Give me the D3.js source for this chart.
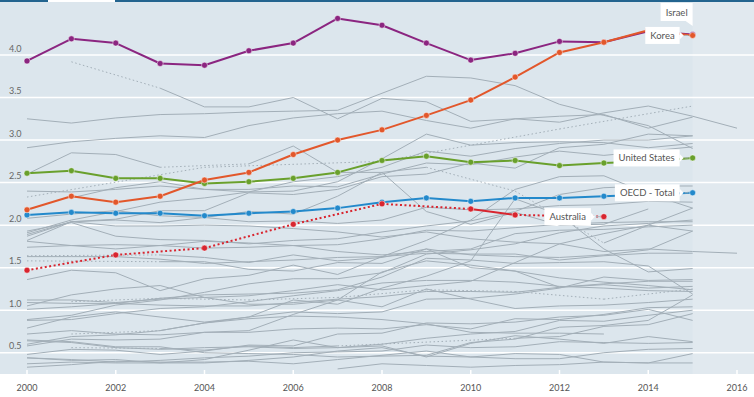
<!DOCTYPE html>
<html>
<head>
<meta charset="utf-8">
<script src="https://cdn.jsdelivr.net/npm/d3@7"></script>
<style>
  body { margin: 0; background: #fff; }
  svg { display: block; font-family: Lato, "Open Sans", sans-serif; }
</style>
</head>
<body>
<script>
// years on the x axis, 2000 - 2016
const years = [2000,2001,2002,2003,2004,2005,2006,2007,2008,2009,2010,2011,2012,2013,2014,2015,2016];
const xTicks = [2000,2002,2004,2006,2008,2010,2012,2014,2016];
const yTicks = [0.5,1.0,1.5,2.0,2.5,3.0,3.5,4.0];

// highlighted series (R&D spend, % of GDP), null = no data
const israel    = [3.93,4.19,4.14,3.90,3.88,4.05,4.14,4.43,4.35,4.14,3.94,4.02,4.16,4.15,4.28,4.24,null];
const korea     = [2.18,2.34,2.27,2.34,2.53,2.62,2.83,3.00,3.12,3.29,3.47,3.74,4.03,4.15,4.29,4.23,null];
const usa       = [2.61,2.64,2.55,2.55,2.49,2.51,2.55,2.62,2.76,2.81,2.74,2.76,2.70,2.73,2.75,2.79,null];
const oecd      = [2.12,2.15,2.14,2.14,2.11,2.14,2.16,2.20,2.27,2.32,2.28,2.32,2.32,2.34,2.36,2.38,null];
const australia = [1.47,null,1.65,null,1.73,null,2.01,null,2.25,null,2.19,2.12,null,2.10,null,null,null];

// background countries
const finland   = [3.25,3.20,3.26,3.30,3.31,3.33,3.34,3.35,3.55,3.75,3.73,3.64,3.42,3.29,3.17,2.90,null];
const japan     = [2.91,2.98,3.02,3.05,3.03,3.17,3.26,3.31,3.34,3.23,3.14,3.25,3.21,3.32,3.40,3.28,3.14];
const sweden    = [null,3.92,null,3.61,3.39,3.39,3.50,3.25,3.49,3.45,3.22,3.25,3.28,3.30,3.14,3.27,null];
const denmark   = [null,2.32,2.44,2.51,2.42,2.39,2.40,2.51,2.78,3.07,2.94,2.97,2.98,2.97,2.91,2.96,null];
const germany   = [2.40,2.39,2.42,2.46,2.42,2.42,2.46,2.45,2.60,2.73,2.71,2.80,2.87,2.82,2.87,2.92,null];
const austria   = [1.89,2.04,2.07,2.17,2.17,2.38,2.36,2.42,2.57,2.60,2.73,2.67,2.91,2.95,3.07,3.05,null];
const switzerland = [2.33,null,null,null,2.68,null,null,null,2.75,null,null,null,3.13,null,null,3.40,null];
const iceland   = [2.60,2.85,2.83,2.68,null,2.72,2.93,2.62,2.62,2.68,null,2.40,null,1.79,2.00,2.20,null];
const taiwan    = [1.91,2.06,2.16,2.27,2.32,2.39,2.51,2.57,2.68,2.87,2.81,2.90,2.96,3.00,3.00,3.05,null];
const france    = [2.08,2.13,2.17,2.11,2.09,2.04,2.05,2.02,2.06,2.21,2.18,2.19,2.23,2.24,2.28,2.27,null];
const belgium   = [1.93,2.03,1.87,1.83,1.82,1.78,1.82,1.84,1.92,1.99,2.05,2.16,2.36,2.44,2.46,2.46,null];
const netherlands = [1.81,1.76,1.72,1.76,1.81,1.79,1.76,1.69,1.65,1.69,1.72,1.90,1.94,1.95,1.98,2.00,null];
const singapore = [1.82,2.04,2.06,2.03,2.09,2.16,2.13,2.34,2.62,2.16,2.01,2.15,2.00,2.01,2.19,null,null];
const slovenia  = [1.36,1.47,1.44,1.23,1.37,1.41,1.53,1.42,1.63,1.82,2.06,2.42,2.57,2.58,2.37,2.20,null];
const canada    = [1.87,2.04,1.99,1.99,2.00,1.99,1.96,1.92,1.86,1.92,1.84,1.80,1.78,1.69,1.72,1.69,1.67];
const eu28      = [1.74,1.76,1.77,1.76,1.73,1.74,1.76,1.77,1.84,1.94,1.93,1.97,2.01,2.03,2.04,2.04,null];
const uk        = [1.63,1.63,1.63,1.60,1.55,1.57,1.59,1.62,1.63,1.67,1.66,1.66,1.59,1.64,1.67,1.67,null];
const norway    = [1.58,null,null,1.57,1.57,1.48,1.46,1.56,1.55,1.72,1.65,1.63,1.62,1.65,1.71,1.93,null];
const luxembourg = [1.64,null,null,1.65,1.62,1.56,1.65,1.58,1.62,1.72,1.50,1.46,1.27,1.30,1.26,1.28,null];
const china     = [0.89,0.94,1.06,1.12,1.21,1.31,1.37,1.37,1.44,1.66,1.71,1.78,1.91,1.99,2.02,2.06,null];
const czech     = [1.12,1.12,1.09,1.13,1.15,1.17,1.23,1.30,1.24,1.29,1.34,1.56,1.78,1.90,2.00,1.93,null];
const ireland   = [1.09,1.08,1.08,1.14,1.18,1.19,1.20,1.24,1.39,1.61,1.59,1.55,1.56,1.57,1.52,1.19,null];
const estonia   = [0.60,0.69,0.71,0.76,0.85,0.92,1.12,1.07,1.26,1.40,1.58,2.31,2.12,1.72,1.45,1.49,null];
const russia    = [1.05,1.18,1.25,1.29,1.15,1.07,1.07,1.12,1.04,1.25,1.13,1.02,1.05,1.06,1.09,1.13,null];
const newZealand = [null,1.10,null,1.14,null,1.12,null,1.15,null,1.24,null,1.22,null,1.13,null,1.25,null];
const spain     = [0.88,0.89,0.96,1.02,1.04,1.10,1.17,1.23,1.32,1.35,1.35,1.33,1.28,1.26,1.23,1.22,null];
const italy     = [1.01,1.04,1.08,1.06,1.05,1.05,1.09,1.13,1.16,1.22,1.22,1.21,1.27,1.31,1.34,1.34,null];
const portugal  = [0.72,0.76,0.72,0.71,0.74,0.76,0.95,1.12,1.45,1.58,1.53,1.46,1.38,1.33,1.29,1.24,null];
const hungary   = [0.79,0.92,0.98,0.92,0.86,0.92,0.98,0.96,0.98,1.13,1.14,1.19,1.26,1.39,1.35,1.36,null];
const southAfrica = [null,0.72,null,0.76,0.85,0.90,0.93,0.92,0.89,0.84,0.74,0.73,0.73,0.72,null,null,null];
const turkey    = [0.48,0.54,0.53,0.48,0.52,0.59,0.58,0.72,0.73,0.85,0.84,0.86,0.92,0.94,1.01,0.88,null];
const poland    = [0.64,0.62,0.56,0.54,0.56,0.57,0.55,0.56,0.60,0.67,0.72,0.75,0.88,0.87,0.94,1.00,null];
const slovakia  = [0.65,0.63,0.57,0.57,0.50,0.49,0.48,0.45,0.46,0.47,0.62,0.66,0.80,0.82,0.88,1.18,null];
const lithuania = [0.58,0.66,0.65,0.66,0.74,0.74,0.78,0.79,0.78,0.83,0.78,0.90,0.89,0.95,1.03,1.04,null];
const greece    = [null,0.56,null,0.55,0.53,0.58,0.56,0.58,null,null,null,0.67,0.69,0.81,0.83,0.96,null];
const latvia    = [0.44,0.41,0.42,0.38,0.42,0.53,0.65,0.56,0.58,0.45,0.61,0.70,0.66,0.61,0.69,0.63,null];
const argentina = [0.44,0.42,0.39,0.41,0.44,0.46,0.50,0.51,0.52,0.59,0.56,0.57,0.63,0.62,0.61,0.62,null];
const romania   = [0.37,0.39,0.38,0.38,0.38,0.41,0.45,0.52,0.56,0.46,0.45,0.49,0.48,0.39,0.38,0.49,null];
const mexico    = [0.33,0.36,0.40,0.39,0.39,0.40,0.37,0.42,0.47,0.52,0.45,0.43,0.43,0.50,0.54,0.55,null];
const chile     = [null,null,null,null,null,null,null,0.31,0.37,0.35,0.33,0.35,0.36,0.39,0.38,0.38,null];

const background = [finland, japan, sweden, denmark, germany, austria, switzerland, iceland, taiwan,
  france, belgium, netherlands, singapore, slovenia, canada, eu28, uk, norway, luxembourg, china,
  czech, ireland, estonia, russia, newZealand, spain, italy, portugal, hungary, southAfrica, turkey,
  poland, slovakia, lithuania, greece, latvia, argentina, romania, mexico, chile];

const highlighted = [
  {name: "Israel", values: israel, color: "#8b2580"},
  {name: "United States", values: usa, color: "#69a02c"},
  {name: "OECD - Total", values: oecd, color: "#2389cb"},
  {name: "Australia", values: australia, color: "#d8252f"},
  {name: "Korea", values: korea, color: "#e2572b"}
];

const w = 754, h = 397;
const plotBottom = 374;

const x = d3.scaleLinear().domain([2000, 2016]).range([27, 737]);
const y = d3.scaleLinear().domain([0.25, 4.0]).range([plotBottom, 55]);

const svg = d3.select("body").append("svg")
  .attr("width", w)
  .attr("height", h);

// plot background
svg.append("rect")
  .attr("x", 0).attr("y", 2)
  .attr("width", w).attr("height", plotBottom - 2)
  .attr("fill", "#e1e9ef");
svg.append("rect")
  .attr("x", 0).attr("y", 2)
  .attr("width", x(2015)).attr("height", plotBottom - 2)
  .attr("fill", "#dce6ed");

// top tab bar
svg.append("rect").attr("x", 0).attr("y", 0).attr("width", 48).attr("height", 2).attr("fill", "#23648f");
svg.append("rect").attr("x", 115).attr("y", 0).attr("width", w - 115).attr("height", 2).attr("fill", "#23648f");

// grid lines + y labels
svg.selectAll(".grid")
  .data(yTicks)
  .enter()
  .append("line")
  .attr("x1", 0).attr("x2", w)
  .attr("y1", d => y(d)).attr("y2", d => y(d))
  .attr("stroke", "#fff")
  .attr("stroke-width", 1.5);

svg.selectAll(".ylab")
  .data(yTicks)
  .enter()
  .append("text")
  .attr("x", 9)
  .attr("y", d => y(d) - 3.5)
  .attr("font-size", "9px")
  .attr("fill", "#666")
  .text(d => d.toFixed(1));

// x ticks and labels
svg.selectAll(".xtick")
  .data(xTicks)
  .enter()
  .append("line")
  .attr("x1", d => x(d)).attr("x2", d => x(d))
  .attr("y1", plotBottom - 4).attr("y2", plotBottom)
  .attr("stroke", "#fff")
  .attr("stroke-width", 1.5);

svg.selectAll(".xlab")
  .data(xTicks)
  .enter()
  .append("text")
  .attr("x", d => x(d))
  .attr("y", 391)
  .attr("text-anchor", "middle")
  .attr("font-size", "9px")
  .attr("fill", "#555")
  .text(d => d);

// split a series in segments: solid between consecutive years, dotted across gaps
function segments(vals) {
  const pts = years.map((yr, i) => ({year: yr, v: vals[i]})).filter(d => d.v != null);
  const segs = [];
  for (let i = 1; i < pts.length; i++) {
    segs.push({a: pts[i - 1], b: pts[i], gap: pts[i].year - pts[i - 1].year > 1});
  }
  return segs;
}

const line = d3.line().x(d => x(d.year)).y(d => y(d.v));

// grey background lines
background.forEach(vals => {
  svg.append("g")
    .selectAll("path")
    .data(segments(vals))
    .enter()
    .append("path")
    .attr("d", s => line([s.a, s.b]))
    .attr("fill", "none")
    .attr("stroke", "#a3afb8")
    .attr("stroke-width", 1)
    .attr("stroke-dasharray", s => s.gap ? "1.5,2.5" : null);
});

// highlighted series
highlighted.forEach(sr => {
  const g = svg.append("g");
  g.selectAll("path")
    .data(segments(sr.values))
    .enter()
    .append("path")
    .attr("d", s => line([s.a, s.b]))
    .attr("fill", "none")
    .attr("stroke", sr.color)
    .attr("stroke-width", 2)
    .attr("stroke-dasharray", s => s.gap ? "2,2.5" : null);
  g.selectAll("circle")
    .data(years.map((yr, i) => ({year: yr, v: sr.values[i]})).filter(d => d.v != null))
    .enter()
    .append("circle")
    .attr("cx", d => x(d.year))
    .attr("cy", d => y(d.v))
    .attr("r", 3)
    .attr("fill", sr.color)
    .attr("stroke", "rgba(255,255,255,0.6)")
    .attr("stroke-width", 0.8);
});

// labels at the last point of each highlighted series
function lastPoint(vals) {
  let i = vals.length - 1;
  while (vals[i] == null) i--;
  return {px: x(years[i]), py: y(vals[i])};
}

function sideLabel(name, vals) {
  const p = lastPoint(vals);
  const g = svg.append("g");
  const t = g.append("text")
    .attr("font-size", "9.5px")
    .attr("fill", "#555")
    .text(name);
  const tw = t.node().getComputedTextLength();
  const right = p.px - 13, bw = tw + 10, bh = 17;
  g.insert("rect", "text")
    .attr("x", right - bw).attr("y", p.py - bh / 2)
    .attr("width", bw).attr("height", bh)
    .attr("fill", "#fff");
  g.insert("path", "text")
    .attr("d", `M${right},${p.py - 4}L${right + 4},${p.py}L${right},${p.py + 4}Z`)
    .attr("fill", "#fff");
  g.append("line")
    .attr("x1", right + 5).attr("x2", p.px - 4)
    .attr("y1", p.py).attr("y2", p.py)
    .attr("stroke", "#aab4bc").attr("stroke-width", 1);
  t.attr("x", right - bw + 5).attr("y", p.py + 3.5);
}

function topLabel(name, vals) {
  const p = lastPoint(vals);
  const g = svg.append("g");
  const t = g.append("text")
    .attr("font-size", "9.5px")
    .attr("fill", "#555")
    .text(name);
  const tw = t.node().getComputedTextLength();
  const bw = tw + 10, bh = 18;
  const left = p.px - bw, top = 3;
  g.insert("rect", "text")
    .attr("x", left).attr("y", top)
    .attr("width", bw).attr("height", bh)
    .attr("fill", "#fff");
  g.insert("path", "text")
    .attr("d", `M${p.px - 7},${top + bh}L${p.px},${top + bh + 5}L${p.px},${top + bh}Z`)
    .attr("fill", "#fff");
  t.attr("x", left + 5).attr("y", top + 12.5);
}

topLabel("Israel", israel);
sideLabel("Korea", korea);
sideLabel("United States", usa);
sideLabel("OECD - Total", oecd);
sideLabel("Australia", australia);
</script>
</body>
</html>
